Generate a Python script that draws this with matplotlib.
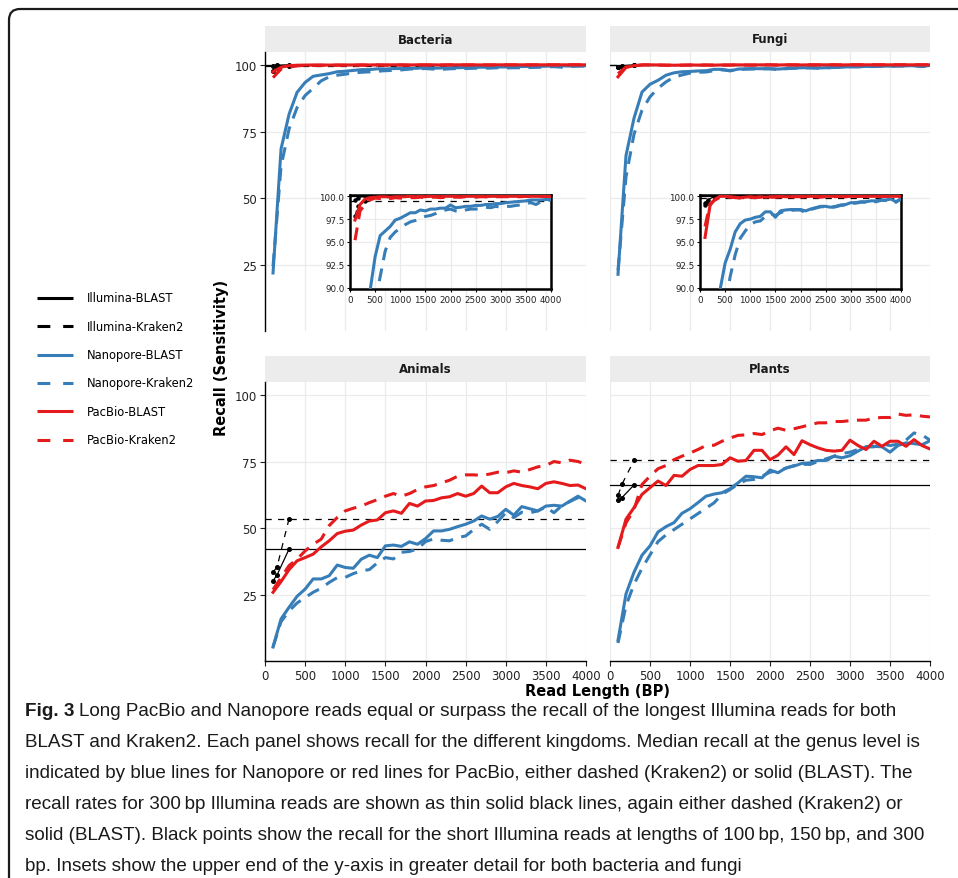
import matplotlib.pyplot as plt
from matplotlib.patches import FancyBboxPatch, Rectangle

# Read lengths for the long-read simulations and the short Illumina reads.
read_len = list(range(100, 4001, 100))
illumina_len = [100, 150, 300]

kingdoms = ["Bacteria", "Fungi", "Animals", "Plants"]

# Bacteria
bac_nano_blast = [22, 68.5, 81.5, 89.7, 93.4, 95.7, 96.2, 96.7, 97.4, 97.6,
                  97.9, 98.2, 98.2, 98.5, 98.4, 98.6, 98.6, 98.7, 98.7, 99.05,
                  98.75, 98.8, 98.9, 98.9, 99.0, 99.0, 99.1, 99.1, 99.2, 99.2,
                  99.3, 99.35, 99.4, 99.45, 99.5, 99.6, 99.6, 99.6, 99.65, 99.65]
bac_nano_kraken = [24.5, 62, 76, 84, 88.5, 91.2, 94.0, 95.5, 96.1, 96.5,
                   96.9, 97.2, 97.35, 97.6, 97.8, 97.9, 98.1, 98.4, 98.5, 98.6,
                   98.4, 98.3, 98.5, 98.6, 98.6, 98.7, 98.8, 98.75, 98.9, 98.8,
                   98.9, 98.9, 99.0, 99.05, 99.2, 99.3, 99.1, 99.4, 99.5, 99.6]
bac_pac_blast = [97.4, 99.1, 99.7, 99.85, 99.9, 99.95, 99.95, 99.9, 99.95, 99.95,
                 99.95, 100, 99.95, 100, 99.95, 100, 100, 99.95, 100, 100,
                 100, 99.95, 100, 100, 100, 100, 99.95, 100, 100, 100,
                 100, 100, 100, 100, 100, 100, 100, 100, 100, 100]
bac_pac_kraken = [95.2, 98.4, 99.1, 99.6, 99.8, 99.75, 99.8, 99.75, 99.85, 99.8,
                  99.8, 99.85, 99.85, 99.9, 99.85, 99.9, 99.9, 99.85, 99.9, 99.9,
                  99.9, 99.9, 99.95, 99.9, 99.9, 99.95, 99.95, 99.9, 99.95, 99.95,
                  99.95, 99.95, 99.95, 99.95, 100, 99.95, 100, 100, 100, 100]
bac_ill_blast = [99.6, 99.85, 100.0]
bac_ill_kraken = [97.8, 98.9, 99.45]

# Fungi
fun_nano_blast = [21.5, 66, 80, 89.8, 92.7, 94.2, 96.1, 97.0, 97.4, 97.5,
                  97.7, 97.8, 98.3, 98.3, 97.7, 98.4, 98.5, 98.55, 98.55, 98.55,
                  98.4, 98.6, 98.75, 98.9, 98.9, 98.8, 98.9, 99.05, 99.1, 99.3,
                  99.3, 99.4, 99.4, 99.5, 99.5, 99.6, 99.6, 99.7, 99.4, 99.75]
fun_nano_kraken = [23, 58, 74, 83, 88, 91.2, 93.6, 95.4, 96.2, 96.9,
                   97.2, 97.3, 97.8, 98.1, 97.9, 98.2, 98.4, 98.45, 98.5, 98.5,
                   98.2, 98.55, 98.7, 98.85, 98.85, 98.75, 98.85, 99.0, 99.05, 99.25,
                   99.25, 99.35, 99.35, 99.45, 99.4, 99.55, 99.55, 99.65, 99.35, 99.7]
fun_pac_blast = [95.5, 99.0, 99.7, 100, 100, 99.95, 99.9, 99.85, 99.9, 99.95,
                 99.9, 99.95, 99.9, 99.95, 99.95, 100, 99.95, 99.95, 100, 100,
                 99.95, 100, 100, 99.95, 100, 100, 100, 100, 99.95, 100,
                 100, 100, 100, 100, 100, 100, 100, 100, 100, 100]
fun_pac_kraken = [96.7, 99.2, 99.6, 99.9, 99.95, 99.9, 99.85, 99.8, 99.85, 99.9,
                  99.85, 99.9, 99.85, 99.9, 99.9, 99.95, 99.9, 99.9, 99.95, 99.95,
                  99.9, 99.95, 99.95, 99.9, 99.95, 99.95, 99.95, 100, 99.95, 100,
                  100, 100, 100, 100, 100, 100, 100, 100, 100, 100]
fun_ill_blast = [99.3, 99.6, 100.0]
fun_ill_kraken = [99.0, 99.3, 99.85]

# Animals
ani_nano_blast = [5.5, 16, 20.4, 24.5, 27.2, 31, 31, 32.2, 36.2, 35.3,
                  35, 38.4, 39.9, 39, 43.4, 43.7, 43.2, 44.9, 44, 46.1,
                  49, 49, 49.6, 50.6, 51.5, 52.7, 54.6, 53.4, 54.4, 57.1,
                  54.9, 58.1, 57.3, 56.5, 58.3, 58.6, 58.3, 60.2, 62, 60.2]
ani_nano_kraken = [5.5, 15, 19, 22, 24, 26, 27.5, 29.7, 31.5, 31.6,
                   33, 34, 34.5, 37, 39, 38.5, 41, 41.3, 42.2, 45,
                   46, 45.5, 45.3, 46.5, 47.1, 49.5, 51.5, 49.6, 52.5, 55.8,
                   54, 56, 55.8, 56.5, 58, 55.8, 58.5, 60, 61.5, 60]
ani_pac_blast = [26, 30, 34.5, 37.8, 39, 40.3, 43, 45.3, 48, 48.9,
                 49.3, 51.2, 52.7, 53.1, 55.8, 56.5, 55.6, 59.3, 58.3, 60.2,
                 60.4, 61.4, 61.8, 63, 62, 63, 65.8, 63.3, 63.3, 65.5,
                 66.8, 66, 65.5, 64.8, 66.8, 67.4, 66.8, 66, 66.2, 64.8]
ani_pac_kraken = [27, 31.5, 36, 38.4, 41.5, 44, 45.9, 51, 54, 56.5,
                  57.5, 58.3, 59.6, 60.7, 62, 63, 62, 63, 64.5, 65.5,
                  66, 67, 68, 69.5, 70, 70, 69.8, 70.3, 71, 70.8,
                  71.5, 71, 72, 73, 73.5, 75, 74.5, 75.5, 75, 74]
ani_ill_blast = [30.3, 32.5, 42.2]
ani_ill_kraken = [33.5, 35.5, 53.6]

# Plants
pla_nano_blast = [8, 25.4, 33.5, 39.9, 43.4, 48.6, 50.6, 52.1, 55.6, 57.3,
                  59.6, 62, 62.8, 63.3, 64.8, 67, 69.5, 69.3, 68.9, 71.8,
                  70.8, 72.6, 73.3, 74.3, 74.5, 75.4, 75.4, 77, 76.4, 77.2,
                  78.9, 80.5, 80.7, 80.5, 78.5, 81, 82, 81.7, 81.3, 82.8]
pla_nano_kraken = [7, 21, 29, 35, 40, 45, 47.5, 49.5, 51.5, 53.5,
                   55.5, 57.5, 59.5, 62.7, 64.5, 66.5, 68, 68.3, 69.5, 71,
                   71.5, 72.5, 73.5, 74, 73.9, 75, 76, 77, 78, 78.5,
                   79.5, 80.5, 80.5, 81.5, 81, 81.5, 83, 85.7, 85, 83]
pla_pac_blast = [42.8, 53.4, 57.7, 62.7, 65.2, 67.7, 66, 69.8, 69.5, 72,
                 73.5, 73.5, 73.5, 73.9, 76.4, 75.1, 75.4, 79.2, 79.2, 75.7,
                 77.4, 80.5, 77.6, 82.8, 81.3, 80.1, 79.2, 78.9, 79.2, 83,
                 81, 79.5, 82.6, 80.7, 82.6, 82.6, 80.7, 83.2, 81, 79.7]
pla_pac_kraken = [42.8, 52, 57, 66.4, 69.5, 72.3, 73.5, 75.7, 77, 78.2,
                  79.5, 81, 81.1, 82.6, 83.8, 84.8, 85, 85.5, 85.1, 86.5,
                  87.5, 86.7, 87.3, 88, 88.8, 89.5, 89.5, 90, 90, 90.3,
                  90.5, 90.5, 91.3, 91.5, 91.5, 92.8, 92.3, 92.5, 92, 91.7]
pla_ill_blast = [60.4, 61.5, 66.2]
pla_ill_kraken = [62.3, 66.5, 75.4]

series_names = ["Illumina-BLAST", "Illumina-Kraken2", "Nanopore-BLAST",
                "Nanopore-Kraken2", "PacBio-BLAST", "PacBio-Kraken2"]

caption_lines = [
    "Long PacBio and Nanopore reads equal or surpass the recall of the longest Illumina reads for both",
    "BLAST and Kraken2. Each panel shows recall for the different kingdoms. Median recall at the genus level is",
    "indicated by blue lines for Nanopore or red lines for PacBio, either dashed (Kraken2) or solid (BLAST). The",
    "recall rates for 300\u2009bp Illumina reads are shown as thin solid black lines, again either dashed (Kraken2) or",
    "solid (BLAST). Black points show the recall for the short Illumina reads at lengths of 100\u2009bp, 150\u2009bp, and 300",
    "bp. Insets show the upper end of the y-axis in greater detail for both bacteria and fungi",
]

BLUE = "#377EB8"
RED = "#E41A1C"
GRID = "#ebebeb"
THICK_DASH = (0, (4.2, 2.8))
THIN_DASH = (0, (5, 5))

W, H = 958, 879
fig = plt.figure(figsize=(W / 100, H / 100), dpi=100)
plt.rcParams["font.family"] = ["DejaVu Sans"]


def px_box(x0, y0, x1, y1):
    """Pixel box (top-left origin) to figure fraction rect."""
    return [x0 / W, 1 - y1 / H, (x1 - x0) / W, (y1 - y0) / H]


# Overlay axes in pixel coordinates for the frame, strips, legend and caption.
over = fig.add_axes([0, 0, 1, 1])
over.set_xlim(0, W)
over.set_ylim(H, 0)
over.axis("off")

frame = FancyBboxPatch((9, 10), 1000, 1000, boxstyle="round,pad=0,rounding_size=11",
                       linewidth=1.6, edgecolor="#1a1a1a", facecolor="none")
over.add_patch(frame)


def draw_lines(ax, nb, nk, pb, pk, ib, ik, point_size=2.6):
    ax.axhline(ib[-1], color="black", lw=0.9, zorder=2)
    ax.axhline(ik[-1], color="black", lw=0.9, ls=THIN_DASH, zorder=2)
    ax.plot(illumina_len, ib, color="black", lw=0.9, marker="o", ms=point_size, zorder=3)
    ax.plot(illumina_len, ik, color="black", lw=0.9, ls=THIN_DASH, marker="o",
            ms=point_size, zorder=3)
    ax.plot(read_len, nb, color=BLUE, lw=2.2, zorder=4)
    ax.plot(read_len, nk, color=BLUE, lw=2.2, ls=THICK_DASH, zorder=4)
    ax.plot(read_len, pb, color=RED, lw=2.2, zorder=5)
    ax.plot(read_len, pk, color=RED, lw=2.2, ls=THICK_DASH, zorder=5)


panel_data = {
    "Bacteria": (bac_nano_blast, bac_nano_kraken, bac_pac_blast, bac_pac_kraken,
                 bac_ill_blast, bac_ill_kraken),
    "Fungi": (fun_nano_blast, fun_nano_kraken, fun_pac_blast, fun_pac_kraken,
              fun_ill_blast, fun_ill_kraken),
    "Animals": (ani_nano_blast, ani_nano_kraken, ani_pac_blast, ani_pac_kraken,
                ani_ill_blast, ani_ill_kraken),
    "Plants": (pla_nano_blast, pla_nano_kraken, pla_pac_blast, pla_pac_kraken,
               pla_ill_blast, pla_ill_kraken),
}

# Panel layout in pixels: x0, y0, x1, y1
panel_px = {
    "Bacteria": (265, 53, 586, 332),
    "Fungi": (610, 53, 930, 332),
    "Animals": (265, 383, 586, 662),
    "Plants": (610, 383, 930, 662),
}
inset_px = {
    "Bacteria": (350, 196, 551, 290),
    "Fungi": (700, 196, 901, 290),
}

for name in kingdoms:
    x0, y0, x1, y1 = panel_px[name]
    ax = fig.add_axes(px_box(x0, y0, x1, y1))
    draw_lines(ax, *panel_data[name])
    ax.set_xlim(0, 4000)
    ax.set_ylim(0.25, 104.8)
    ax.set_xticks(range(0, 4001, 500))
    ax.set_yticks([25, 50, 75, 100])
    ax.grid(True, color=GRID, lw=0.9)
    ax.set_axisbelow(True)
    for side in ["top", "right", "left", "bottom"]:
        ax.spines[side].set_visible(False)
    left_col = name in ("Bacteria", "Animals")
    bottom_row = name in ("Animals", "Plants")
    ax.tick_params(axis="both", length=3.5, width=0.8, color="#222222",
                   labelsize=8.5, labelcolor="#222222", pad=2)
    if left_col:
        ax.spines["left"].set_visible(True)
        ax.spines["left"].set_linewidth(1.0)
    else:
        ax.tick_params(axis="y", left=False, labelleft=False)
    if bottom_row:
        ax.spines["bottom"].set_visible(True)
        ax.spines["bottom"].set_linewidth(1.0)
    else:
        ax.tick_params(axis="x", bottom=False, labelbottom=False)

    # facet strip
    strip_top = y0 - 26
    over.add_patch(Rectangle((x0, strip_top), x1 - x0, 26, facecolor="#ececec",
                             edgecolor="none"))
    over.text((x0 + x1) / 2, strip_top + 13, name, ha="center", va="center",
              fontsize=8.5, fontweight="bold", color="#1a1a1a")

# Insets for bacteria and fungi
for name in ["Bacteria", "Fungi"]:
    ix = fig.add_axes(px_box(*inset_px[name]))
    draw_lines(ix, *panel_data[name], point_size=2.2)
    ix.set_xlim(0, 4000)
    ix.set_ylim(89.86, 100.14)
    ix.set_xticks(range(0, 4001, 500))
    ix.set_yticks([90, 92.5, 95, 97.5, 100])
    ix.set_yticklabels(["90.0", "92.5", "95.0", "97.5", "100.0"])
    ix.grid(True, color=GRID, lw=0.9)
    ix.set_axisbelow(True)
    for sp in ix.spines.values():
        sp.set_linewidth(1.8)
        sp.set_color("black")
    ix.tick_params(axis="both", length=2.5, width=0.8, labelsize=6.3,
                   labelcolor="#222222", pad=1.5)

# Axis titles
over.text(222, 358, "Recall (Sensitivity)", rotation=90, ha="center", va="center",
          fontsize=10.5, fontweight="bold")
over.text(598, 692, "Read Length (BP)", ha="center", va="center",
          fontsize=10.5, fontweight="bold")

# Legend
legend_styles = [("black", "-"), ("black", (0, (4.2, 4.2))), (BLUE, "-"),
                 (BLUE, (0, (4.2, 4.2))), (RED, "-"), (RED, (0, (4.2, 4.2)))]
for i, (label, (col, ls)) in enumerate(zip(series_names, legend_styles)):
    yy = 299 + 28.3 * i
    over.plot([37, 73], [yy, yy], color=col, ls=ls, lw=2.2, solid_capstyle="butt")
    over.text(87, yy, label, ha="left", va="center", fontsize=8.3)

# Caption: fit the font size so the widest line ends where the reference text does
cap_font = ["Liberation Sans", "DejaVu Sans"]
renderer = fig.canvas.get_renderer()
probe_lbl = over.text(0, 0, "Fig. 3 ", fontsize=12, fontweight="bold", family=cap_font)
widths = []
for i, line in enumerate(caption_lines):
    t = over.text(0, 0, line, fontsize=12, family=cap_font)
    w = t.get_window_extent(renderer).width
    if i == 0:
        w += probe_lbl.get_window_extent(renderer).width
    widths.append(w)
    t.remove()
probe_lbl.remove()
cap_size = 12 * 908 / max(widths)

fig_lbl = over.text(25, 712, "Fig. 3", ha="left", va="center", fontsize=cap_size,
                    fontweight="bold", family=cap_font, color="#1a1a1a")
lbl_end = fig_lbl.get_window_extent(renderer).x1
for i, line in enumerate(caption_lines):
    xs = lbl_end + 5 if i == 0 else 25
    over.text(xs, 712 + 31 * i, line, ha="left", va="center", fontsize=cap_size,
              family=cap_font, color="#1a1a1a")

fig.savefig("out.png", dpi=100)
